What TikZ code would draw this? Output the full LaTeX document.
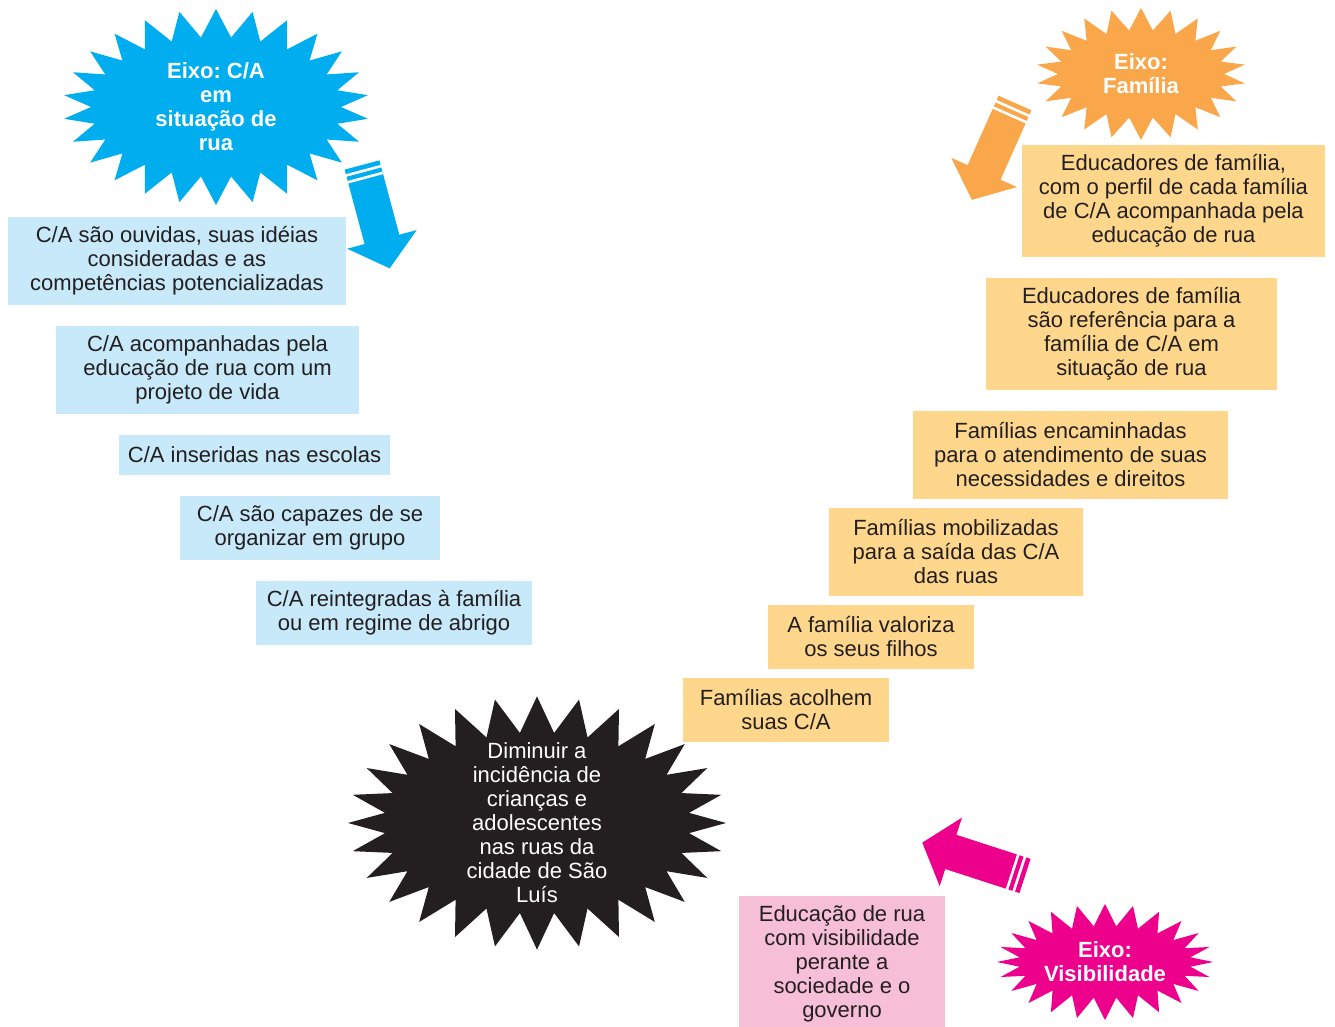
\documentclass[tikz,border=0pt]{standalone}
\usepackage{fontspec}
\setmainfont{Liberation Sans}
\usetikzlibrary{shapes.symbols}
\frenchspacing

\definecolor{textgray}{RGB}{35,31,32}
\definecolor{kidblue}{RGB}{199,233,250}
\definecolor{famorange}{RGB}{254,215,141}
\definecolor{vispink}{RGB}{247,190,215}
\definecolor{starblue}{RGB}{0,174,239}
\definecolor{starorange}{RGB}{250,166,74}
\definecolor{starmagenta}{RGB}{236,0,140}
\definecolor{starblack}{RGB}{35,31,32}

% block arrow with two white stripes at its tail: colour, tail, angle, length
\newcommand{\stripearrow}[4]{%
  \begin{scope}[shift={#2},rotate=#3]
    \fill[#1] (0,-18) -- (#4-30,-18) -- (#4-30,-36) -- (#4,0) -- (#4-30,36)
      -- (#4-30,18) -- (0,18) -- cycle;
    \draw[white,line width=1.3pt] (6,-20) -- (6,20);
    \draw[white,line width=1.3pt] (13,-20) -- (13,20);
  \end{scope}}

\begin{document}
\begin{tikzpicture}[x=0.5pt,y=-0.5pt,
    box/.style={inner sep=0pt,align=center,text=textgray,
      font=\fontsize{11}{12}\selectfont},
    kidbox/.style={box,fill=kidblue},
    fambox/.style={box,fill=famorange},
    visbox/.style={box,fill=vispink},
    burst/.style={starburst,random starburst=0,fill=#1,inner sep=0pt,
      align=center,text=white,font=\fontsize{11}{12}\selectfont\bfseries}]
  \useasboundingbox (0,0) rectangle (1335,1027);

  % eixo C/A
  \node[burst=starblue,starburst points=26,starburst point height=14pt,
    minimum width=153pt,minimum height=98pt] (eixoca) at (216,107)
    {Eixo: C/A\\em\\situação de\\rua};
  \stripearrow{starblue}{(362,165)}{-75}{107}

  \node[kidbox,minimum width=169pt,minimum height=44pt] (ca1) at (177,261)
    {C/A são ouvidas, suas idéias\\consideradas e as\\competências potencializadas};
  \node[kidbox,minimum width=151.5pt,minimum height=44pt] (ca2) at (207.5,370)
    {C/A acompanhadas pela\\educação de rua com um\\projeto de vida};
  \node[kidbox,minimum width=135.5pt,minimum height=20pt] (ca3) at (254.5,455)
    {C/A inseridas nas escolas};
  \node[kidbox,minimum width=130pt,minimum height=32pt] (ca4) at (310,528)
    {C/A são capazes de se\\organizar em grupo};
  \node[kidbox,minimum width=138pt,minimum height=32pt] (ca5) at (394,613)
    {C/A reintegradas à família\\ou em regime de abrigo};

  % eixo familia
  \node[burst=starorange,starburst points=22,starburst point height=11pt,
    minimum width=105pt,minimum height=66pt] (eixofam) at (1141,74)
    {Eixo:\\Família};
  \stripearrow{starorange}{(1015,103)}{-114}{106}

  \node[fambox,minimum width=151.5pt,minimum height=56pt] (fam1) at (1173.5,201)
    {Educadores de família,\\com o perfil de cada família\\de C/A acompanhada pela\\educação de rua};
  \node[fambox,minimum width=145.5pt,minimum height=56pt] (fam2) at (1131.5,334)
    {Educadores de família\\são referência para a\\família de C/A em\\situação de rua};
  \node[fambox,minimum width=157.5pt,minimum height=44pt] (fam3) at (1070.5,455)
    {Famílias encaminhadas\\para o atendimento de suas\\necessidades e direitos};
  \node[fambox,minimum width=127pt,minimum height=44pt] (fam4) at (956,552)
    {Famílias mobilizadas\\para a saída das C/A\\das ruas};
  \node[fambox,minimum width=103pt,minimum height=32pt] (fam5) at (871,637)
    {A família valoriza\\os seus filhos};
  \node[fambox,minimum width=103pt,minimum height=32pt] (fam6) at (786,710)
    {Famílias acolhem\\suas C/A};

  % objetivo
  \node[burst=starblack,starburst points=28,starburst point height=18pt,
    inner ysep=-8pt,minimum width=189pt,minimum height=90pt,
    font=\fontsize{11}{12}\selectfont] (goal) at (537,823)
    {Diminuir a\\incidência de\\crianças e\\adolescentes\\nas ruas da\\cidade de São\\Luís};

  % eixo visibilidade
  \node[burst=starmagenta,starburst points=24,starburst point height=11pt,
    minimum width=108pt,minimum height=58pt] (eixovis) at (1105,962)
    {Eixo:\\Visibilidade};
  \stripearrow{starmagenta}{(1025,876)}{162}{108}

  \node[visbox,minimum width=103pt,minimum height=68pt] (vis1) at (842,964)
    {Educação de rua\\com visibilidade\\perante a\\sociedade e o\\governo};
\end{tikzpicture}
\end{document}
